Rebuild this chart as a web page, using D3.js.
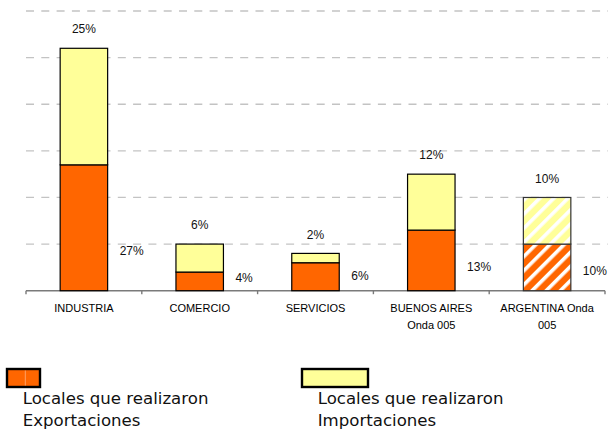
<!DOCTYPE html>
<html>
<head>
<meta charset="utf-8">
<script src="https://cdn.jsdelivr.net/npm/d3@7"></script>
<style>
  html, body { margin: 0; padding: 0; background: #fff; }
  svg { display: block; }
</style>
</head>
<body>
<svg id="chart" width="608" height="432"></svg>
<script>
// ---- data ----
const categories = ["INDUSTRIA", "COMERCIO", "SERVICIOS", "BUENOS AIRES Onda 005", "ARGENTINA Onda 005"];
const categoryLines = [["INDUSTRIA"], ["COMERCIO"], ["SERVICIOS"], ["BUENOS AIRES", "Onda 005"], ["ARGENTINA Onda", "005"]];
const exportaciones = [27, 4, 6, 13, 10];
const importaciones = [25, 6, 2, 12, 10];
const yTicks = [0, 10, 20, 30, 40, 50, 60];
const seriesNames = [["Locales que realizaron", "Exportaciones"], ["Locales que realizaron", "Importaciones"]];
const hatchedCategory = "ARGENTINA Onda 005";

// ---- setup ----
const svg = d3.select("#chart");
const ORANGE = "#FF6600", YELLOW = "#FFFF99";

const x = d3.scaleBand().domain(categories).range([26, 605]).paddingInner(0).paddingOuter(0);
const y = d3.scaleLinear().domain([0, 60]).range([290.7, 11]);
const barW = x.bandwidth() * 0.41;

// patterns
const defs = svg.append("defs");
function hatch(id, base) {
  const p = defs.append("pattern").attr("id", id)
    .attr("patternUnits", "userSpaceOnUse").attr("width", 10).attr("height", 10)
    .attr("patternTransform", "rotate(45)");
  p.append("rect").attr("width", 10).attr("height", 10).attr("fill", base);
  p.append("rect").attr("x", 0).attr("width", 3.6).attr("height", 10).attr("fill", "#fff");
}
hatch("hatchOrange", ORANGE);
hatch("hatchYellow", YELLOW);

// gridlines
svg.append("g").selectAll("line").data(yTicks.filter(t => t > 0)).join("line")
  .attr("x1", 26).attr("x2", 608)
  .attr("y1", d => y(d)).attr("y2", d => y(d))
  .attr("stroke", "#c3c3c3").attr("stroke-width", 1.3)
  .attr("stroke-dasharray", "8,7.3");

// x axis
const xAxis = d3.axisBottom(x).tickSize(0).tickFormat("");
const axG = svg.append("g").attr("transform", `translate(0,${y(0)})`).call(xAxis);
axG.select(".domain").attr("stroke", "#7a7a7a").attr("stroke-width", 1.4)
  .attr("d", `M26,0H605`);
const bounds = categories.map(c => x(c)).concat([x(categories[categories.length - 1]) + x.bandwidth()]);
axG.selectAll(".sep").data(bounds).join("line").attr("class", "sep")
  .attr("x1", d => d).attr("x2", d => d).attr("y1", 0).attr("y2", 3.5)
  .attr("stroke", "#7a7a7a").attr("stroke-width", 1.4);

// bars
const bx = c => x(c) + (x.bandwidth() - barW) / 2;
const bars = svg.append("g");
categories.forEach((c, i) => {
  const h = c === hatchedCategory;
  const e = exportaciones[i], m = importaciones[i];
  bars.append("rect")
    .attr("x", bx(c)).attr("width", barW)
    .attr("y", y(e)).attr("height", y(0) - y(e))
    .attr("fill", h ? "url(#hatchOrange)" : ORANGE)
    .attr("stroke", h ? "#333" : "#000").attr("stroke-width", 1.2);
  bars.append("rect")
    .attr("x", bx(c)).attr("width", barW)
    .attr("y", y(e + m)).attr("height", y(e) - y(e + m))
    .attr("fill", h ? "url(#hatchYellow)" : YELLOW)
    .attr("stroke", h ? "#333" : "#000").attr("stroke-width", 1.2);
});

// value labels
const lbl = svg.append("g").attr("font-family", "'Liberation Sans', Arial, sans-serif")
  .attr("font-size", 12).attr("fill", "#111");
categories.forEach((c, i) => {
  const e = exportaciones[i], m = importaciones[i];
  lbl.append("text")
    .attr("x", bx(c) + barW / 2).attr("y", y(e + m) - 19).attr("dy", "0.35em")
    .attr("text-anchor", "middle").text(m + "%");
  lbl.append("text")
    .attr("x", bx(c) + barW + 12).attr("y", y(e * 0.25 + 1.8)).attr("dy", "0.35em")
    .attr("text-anchor", "start").text(e + "%");
});

// category labels
const cl = svg.append("g").attr("font-family", "'Liberation Sans', Arial, sans-serif")
  .attr("font-size", 11).attr("fill", "#000");
categories.forEach((c, i) => {
  const t = cl.append("text").attr("text-anchor", "middle")
    .attr("x", x(c) + x.bandwidth() / 2).attr("y", 308.3).attr("dy", "0.35em");
  categoryLines[i].forEach((ln, j) => {
    t.append("tspan").attr("x", x(c) + x.bandwidth() / 2)
      .attr("dy", j === 0 ? "0.35em" : 16.7).text(ln);
  });
});

// legend
const legend = svg.append("g");
const legendItems = [
  { rx: 7, rw: 33, fill: ORANGE, tx: 22.7, lines: seriesNames[0] },
  { rx: 302, rw: 66, fill: YELLOW, tx: 317.7, lines: seriesNames[1] }
];
legendItems.forEach(it => {
  legend.append("rect").attr("x", it.rx).attr("y", 369).attr("width", it.rw).attr("height", 18)
    .attr("fill", it.fill).attr("stroke", "#000").attr("stroke-width", 2.4);
  const t = legend.append("text").attr("font-family", "'DejaVu Sans', sans-serif")
    .attr("font-size", 16.6).attr("fill", "#111");
  it.lines.forEach((ln, j) => {
    t.append("tspan").attr("x", it.tx).attr("y", 398.5 + j * 21.5).attr("dy", "0.35em").text(ln);
  });
});
// thin light divider inside orange legend swatch
legend.append("line").attr("x1", 25.3).attr("x2", 25.3).attr("y1", 370.5).attr("y2", 385.5)
  .attr("stroke", "#ffb080").attr("stroke-width", 0.8);
</script>
</body>
</html>
